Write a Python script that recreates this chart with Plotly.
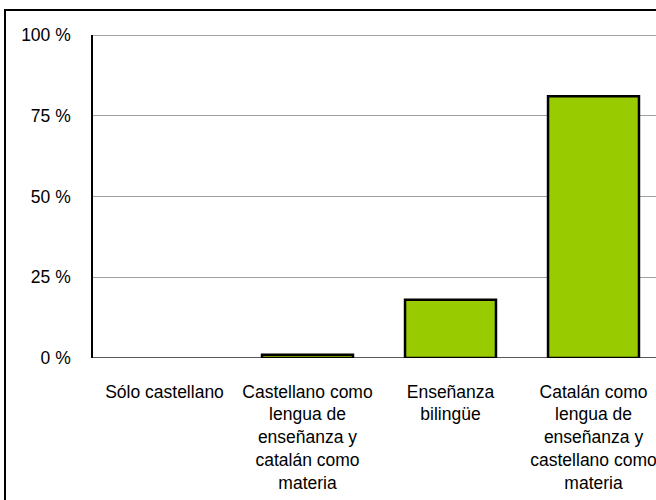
import plotly.graph_objects as go

categories = [
    "Sólo castellano",
    "Castellano como<br>lengua de<br>enseñanza y<br>catalán como<br>materia",
    "Enseñanza<br>bilingüe",
    "Catalán como<br>lengua de<br>enseñanza y<br>castellano como<br>materia",
]
values = [0, 1, 18, 81]
y_ticks = [0, 25, 50, 75, 100]

fig = go.Figure()
fig.add_trace(go.Bar(
    x=list(range(len(categories))),
    y=values,
    marker=dict(color="#99CC00",
                line=dict(color="#000000", width=[0 if v == 0 else 2.5 for v in values])),
    hoverinfo="skip",
))

font = dict(family="Liberation Sans, Arial, sans-serif", size=17.5, color="#000000")

fig.update_layout(
    width=656, height=500,
    margin=dict(l=93, r=0, t=35, b=142, pad=0),
    paper_bgcolor="#FFFFFF", plot_bgcolor="#FFFFFF",
    showlegend=False,
    bargap=0.364,
    font=font,
    xaxis=dict(
        range=[-0.5, 3.437],
        tickmode="array",
        tickvals=list(range(len(categories))),
        ticktext=categories,
        showgrid=False, zeroline=False,
        showline=False,
        ticks="", ticklabelstandoff=21,
        ticklabeloverflow="allow",
        tickfont=font,
        fixedrange=True,
    ),
    yaxis=dict(
        range=[0, 100],
        tickmode="array",
        tickvals=y_ticks,
        ticktext=[f"{v} %" for v in y_ticks],
        showgrid=True, gridcolor="#A0A0A0", gridwidth=1,
        zeroline=False,
        showline=True, linecolor="#000000", linewidth=1.5,
        ticks="", ticklabelstandoff=17,
        tickfont=font,
        fixedrange=True,
    ),
    shapes=[
        # outer chart border (extends beyond visible area)
        dict(type="rect", xref="paper", yref="paper",
             x0=(5 - 93) / 563, x1=1.2, y0=-0.6, y1=(358 - 10) / 323,
             line=dict(color="#000000", width=2), fillcolor="rgba(0,0,0,0)",
             layer="above"),
        # top grid line (plot area top)
        dict(type="line", xref="paper", yref="y", x0=0, x1=1.2, y0=100, y1=100,
             line=dict(color="#888888", width=1.5)),
        # baseline
        dict(type="line", xref="paper", yref="y", x0=0, x1=1.2, y0=0, y1=0,
             line=dict(color="#222222", width=1.5), layer="below"),
    ],
)

fig.write_html("out.html", config={"displayModeBar": False},
               post_script="document.body.style.margin='0';document.body.style.overflow='hidden';")
